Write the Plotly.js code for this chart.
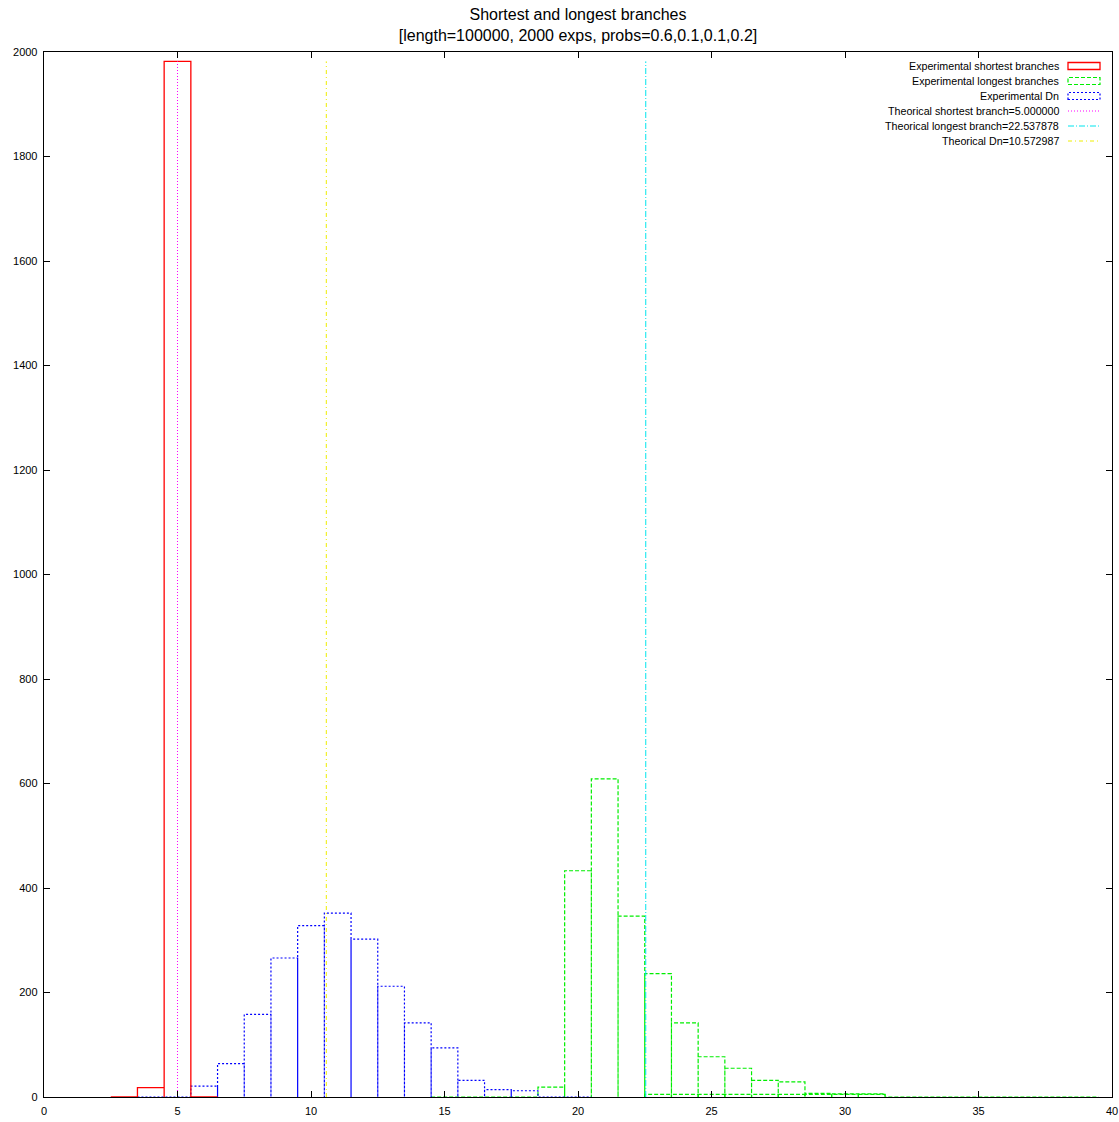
<!DOCTYPE html>
<html>
<head>
<meta charset="utf-8">
<script src="https://cdn.plot.ly/plotly-3.0.1.min.js"></script>
<style>html,body{margin:0;padding:0;background:#fff;}#chart{width:1119px;height:1122px;}</style>
</head>
<body>
<div id="chart"></div>
<script>
// ---- data ----
const shortBins = [3, 4, 5, 6];
const shortCounts = [0, 18, 1982, 0];

const dnBins = [4, 5, 6, 7, 8, 9, 10, 11, 12, 13, 14, 15, 16, 17, 18, 19, 20];
const dnCounts = [0, 0, 21, 64, 158, 266, 328, 352, 302, 212, 142, 94, 32, 14, 12, 0, 0];

const longBins = [15, 16, 17, 18, 19, 20, 21, 22, 23, 24, 25, 26, 27, 28, 29, 30, 31, 32, 33, 34, 35, 36, 37, 38, 39];
const longCounts = [0, 0, 0, 0, 19, 433, 609, 346, 236, 142, 77, 55, 32, 29, 7, 6, 6, 0, 0, 0, 0, 0, 0, 0, 0];

const longTailBins = [23, 24, 25, 26, 27, 28, 29, 30, 31];
const longTailCounts = [5, 5, 5, 5, 5, 5, 5, 5, 5];

const theoNames = ["Theorical shortest branch=5.000000", "Theorical longest branch=22.537878", "Theorical Dn=10.572987"];
const theoValues = [5.000000, 22.537878, 10.572987];
const theoTop = 1982;

const xTicks = [0, 5, 10, 15, 20, 25, 30, 35, 40];
const yTicks = [0, 200, 400, 600, 800, 1000, 1200, 1400, 1600, 1800, 2000];

// ---- build gnuplot-like box outlines ----
function boxes(bins, counts) {
  const xs = [], ys = [];
  bins.forEach((b, i) => {
    const h = counts[i];
    xs.push(b - 0.5, b - 0.5, b + 0.5, b + 0.5);
    ys.push(0, h, h, 0);
  });
  return {x: xs, y: ys};
}

const styles = {
  red: {color: '#ff0000', width: 1.3, dash: 'solid'},
  green: {color: '#00ee00', width: 1.2, dash: '4px,2px'},
  blue: {color: '#0000ff', width: 1.2, dash: '2px,2px'},
  magenta: {color: '#ff00ff', width: 1, dash: '1px,2px'},
  cyan: {color: '#00e5ee', width: 1, dash: '6px,2px,1px,2px'},
  yellow: {color: '#eeee00', width: 1, dash: '4px,3px,1px,3px'}
};

const sb = boxes(shortBins, shortCounts);
const lb = boxes(longBins, longCounts);
const lt = boxes(longTailBins, longTailCounts);
const db = boxes(dnBins, dnCounts);

const traces = [
  {x: lt.x, y: lt.y, mode: 'lines', line: styles.green, showlegend: false, hoverinfo: 'skip'},
  {x: lb.x, y: lb.y, mode: 'lines', line: styles.green, name: 'Experimental longest branches', showlegend: false},
  {x: db.x, y: db.y, mode: 'lines', line: styles.blue, name: 'Experimental Dn', showlegend: false},
  {x: sb.x, y: sb.y, mode: 'lines', line: styles.red, name: 'Experimental shortest branches', showlegend: false}
];
const theoStyles = [styles.magenta, styles.cyan, styles.yellow];
theoValues.forEach((v, i) => {
  traces.push({x: [v, v], y: [0, theoTop], mode: 'lines', line: theoStyles[i], name: theoNames[i], showlegend: false});
});

// ---- custom gnuplot-style legend (text right, sample on the right) ----
const W = 1119, H = 1122, L = 44, R = 7, T = 52, B = 25;
const pw = W - L - R, ph = H - T - B;
const px2x = p => (p - L) / pw;
const px2y = p => (H - B - p) / ph;
const legendItems = [
  {text: 'Experimental shortest branches', style: styles.red, box: true},
  {text: 'Experimental longest branches', style: styles.green, box: true},
  {text: 'Experimental Dn', style: styles.blue, box: true},
  {text: theoNames[0], style: styles.magenta, box: false},
  {text: theoNames[1], style: styles.cyan, box: false},
  {text: theoNames[2], style: styles.yellow, box: false}
];
const annotations = [], shapes = [];
legendItems.forEach((it, i) => {
  const yc = 66 + i * 15;
  annotations.push({xref: 'paper', yref: 'paper', x: px2x(1061), y: px2y(yc), xanchor: 'right', yanchor: 'middle',
    text: it.text, showarrow: false, font: {family: 'Liberation Sans, Arial, sans-serif', size: 10.7, color: '#000'}});
  if (it.box) {
    shapes.push({type: 'rect', xref: 'paper', yref: 'paper', x0: px2x(1068), x1: px2x(1100), y0: px2y(yc + 3.5), y1: px2y(yc - 3.5),
      line: {color: it.style.color, width: it.style.width, dash: it.style.dash}, fillcolor: 'rgba(0,0,0,0)'});
  } else {
    shapes.push({type: 'line', xref: 'paper', yref: 'paper', x0: px2x(1068), x1: px2x(1100), y0: px2y(yc), y1: px2y(yc),
      line: {color: it.style.color, width: it.style.width, dash: it.style.dash}});
  }
});

const axisCommon = {
  showgrid: false, zeroline: false, showline: true, linecolor: '#000', linewidth: 1.3, mirror: 'allticks',
  ticks: 'inside', ticklen: 6, tickcolor: '#000', tickwidth: 1, ticklabelstandoff: 3,
  tickfont: {family: 'Liberation Sans, Arial, sans-serif', size: 11, color: '#000'}
};

const layout = {
  width: W, height: H,
  margin: {l: L, r: R, t: T, b: B},
  paper_bgcolor: '#fff', plot_bgcolor: '#fff',
  font: {family: 'Liberation Sans, Arial, sans-serif', color: '#000'},
  title: {
    text: 'Shortest and longest branches<br>[length=100000, 2000 exps, probs=0.6,0.1,0.1,0.2]',
    font: {family: 'Liberation Sans, Arial, sans-serif', size: 16, color: '#000'},
    xref: 'paper', x: 0.5, xanchor: 'center', yref: 'paper', y: 1, yanchor: 'bottom', pad: {b: 32}
  },
  xaxis: Object.assign({}, axisCommon, {range: [0, 40], tickvals: xTicks, ticktext: xTicks.map(String)}),
  yaxis: Object.assign({}, axisCommon, {range: [0, 2000], tickvals: yTicks, ticktext: yTicks.map(String)}),
  showlegend: false,
  annotations: annotations,
  shapes: shapes
};

Plotly.newPlot('chart', traces, layout, {staticPlot: true, displayModeBar: false});
</script>
</body>
</html>
